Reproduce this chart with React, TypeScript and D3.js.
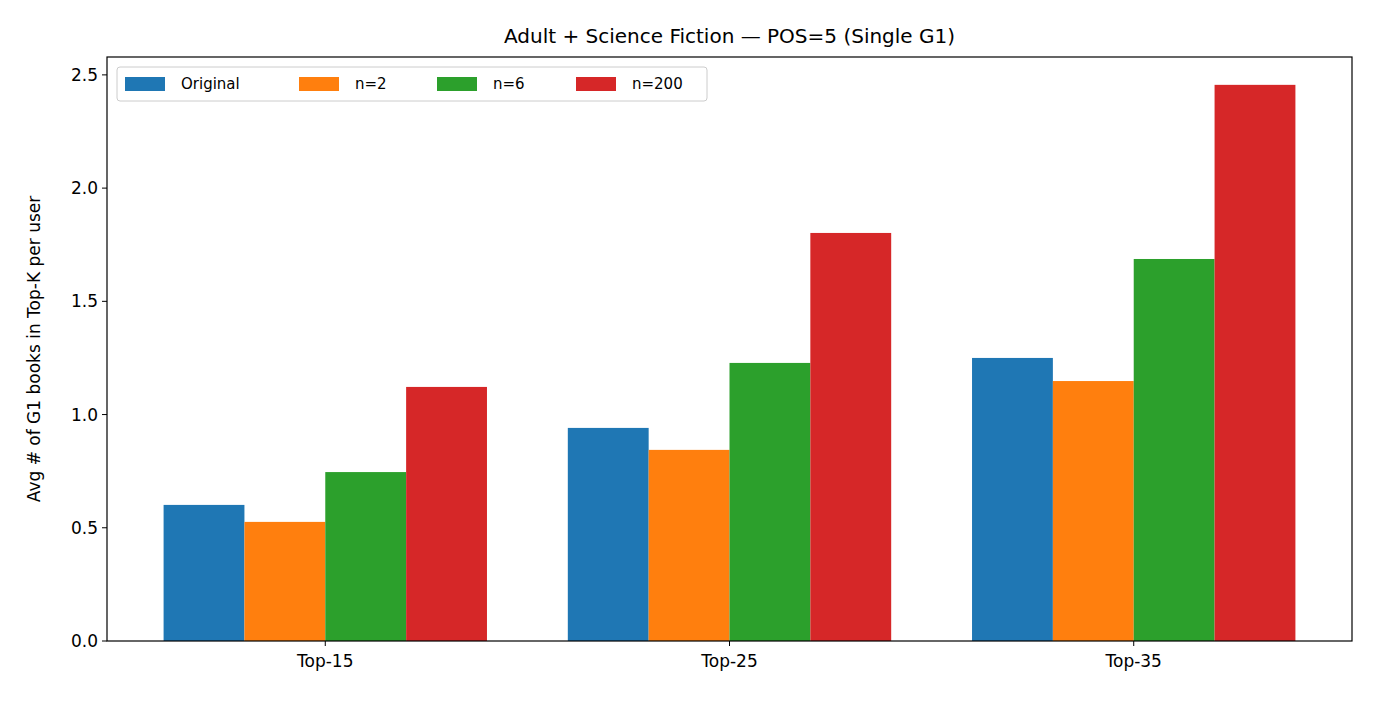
import React from 'react';
import * as d3 from 'd3';

const categories = ['Top-15', 'Top-25', 'Top-35'];
const seriesNames = ['Original', 'n=2', 'n=6', 'n=200'];
const colors = ['#1f77b4', '#ff7f0e', '#2ca02c', '#d62728'];
const values = [
  [0.601, 0.941, 1.25],
  [0.526, 0.844, 1.148],
  [0.746, 1.228, 1.687],
  [1.122, 1.802, 2.456],
];
const yTicks = [0, 0.5, 1.0, 1.5, 2.0, 2.5];

const W = 1376, H = 704;
const margin = { left: 107, right: 24, top: 57, bottom: 63 };

export default function App() {
  const x = d3.scaleLinear().domain([-0.54, 2.54]).range([margin.left, W - margin.right]);
  const y = d3.scaleLinear().domain([0, 2.579]).range([H - margin.bottom, margin.top]);
  const bw = 0.2;
  const font = 'DejaVu Sans, sans-serif';
  const y0 = y(0);
  return (
    <svg width={W} height={H} style={{ position: 'absolute', left: 0, top: 0, background: '#fff' }} fontFamily={font}>
      {values.map((s, si) =>
        s.map((v, ci) => {
          const cx = ci + (si - 1.5) * bw;
          return (
            <rect key={si + '-' + ci} x={x(cx - bw / 2)} y={y(v)} width={x(cx + bw / 2) - x(cx - bw / 2)}
              height={y0 - y(v)} fill={colors[si]} />
          );
        })
      )}
      <rect x={margin.left} y={margin.top} width={W - margin.left - margin.right}
        height={H - margin.top - margin.bottom} fill="none" stroke="#000" strokeWidth={1.2} />
      {yTicks.map(t => (
        <g key={t}>
          <line x1={margin.left - 5} x2={margin.left} y1={y(t)} y2={y(t)} stroke="#000" />
          <text x={margin.left - 9} y={y(t)} dy="0.35em" textAnchor="end" fontSize={17}>{t.toFixed(1)}</text>
        </g>
      ))}
      {categories.map((c, i) => (
        <g key={c}>
          <line x1={x(i)} x2={x(i)} y1={y0} y2={y0 + 5} stroke="#000" />
          <text x={x(i)} y={y0 + 26} textAnchor="middle" fontSize={17}>{c}</text>
        </g>
      ))}
      <text transform={`translate(40,${(margin.top + H - margin.bottom) / 2}) rotate(-90)`} textAnchor="middle" fontSize={17}>
        Avg # of G1 books in Top-K per user
      </text>
      <text x={(margin.left + W - margin.right) / 2} y={43} textAnchor="middle" fontSize={20}>
        Adult + Science Fiction — POS=5 (Single G1)
      </text>
      <g>
        <rect x={117} y={67} width={590} height={34} rx={3} fill="#fff" fillOpacity={0.8} stroke="#ccc" />
        {seriesNames.map((n, i) => {
          const lx = [125, 299, 437, 576][i];
          return (
            <g key={n}>
              <rect x={lx} y={77} width={40} height={14} fill={colors[i]} />
              <text x={lx + 56} y={84} dy="0.35em" fontSize={15}>{n}</text>
            </g>
          );
        })}
      </g>
    </svg>
  );
}
